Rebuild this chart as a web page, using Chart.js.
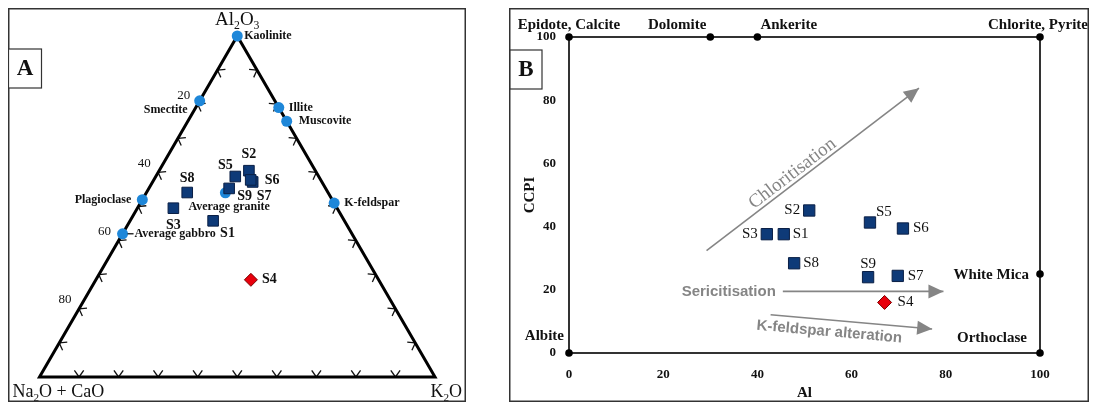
<!DOCTYPE html>
<html>
<head>
<meta charset="utf-8">
<title>A-CN-K ternary and alteration box plot</title>
<script src="https://cdn.jsdelivr.net/npm/chart.js@4.4.1/dist/chart.umd.min.js"></script>
<style>
  html, body { margin: 0; padding: 0; background: #fff; }
  body { width: 1094px; height: 403px; position: relative; overflow: hidden; }
  canvas { position: absolute; }
  #chartA { left: 8px; top: 8px; }
  #chartB { left: 509px; top: 8px; }
</style>
</head>
<body>
<canvas id="chartA" width="458" height="394"></canvas>
<canvas id="chartB" width="580" height="394"></canvas>
<script>
// ---- panel A : A-CN-K ternary (Al2O3 / Na2O+CaO / K2O, %)
const mineralNames = ['Kaolinite', 'Smectite', 'Illite', 'Muscovite', 'Plagioclase', 'K-feldspar', 'Average gabbro', 'Average granite'];
const mineralAl = [100, 81, 79, 75, 52, 51, 42, 54];
const mineralCN = [0, 19, 0, 0, 48, 0, 58, 26];
const mineralK = [0, 0, 21, 25, 0, 49, 0, 20];

const samplesA = ['S1', 'S2', 'S3', 'S5', 'S7', 'S6', 'S8', 'S9'];
const sampleAlA = [45.8, 60.5, 49.5, 58.8, 57.2, 57.8, 54.1, 55.3];
const sampleCNA = [33.2, 16.8, 41.4, 21.1, 17.5, 17.7, 35.6, 24.4];
const sampleKA = [21.0, 22.7, 9.1, 20.1, 25.3, 24.5, 10.3, 20.3];
const s4A = [28.5, 32.3, 39.2]; // Al, CN, K

const ternTicks = [10, 20, 30, 40, 50, 60, 70, 80, 90];
const ternTickLabels = [20, 40, 60, 80];

// ---- panel B : alteration box plot (AI vs CCPI)
const samplesB = ['S1', 'S2', 'S3', 'S5', 'S6', 'S7', 'S8', 'S9'];
const sampleAI = [45.6, 51.0, 42.0, 63.9, 70.9, 69.8, 47.8, 63.5];
const sampleCCPI = [37.6, 45.1, 37.6, 41.3, 39.4, 24.4, 28.4, 24.0];
const s4B = [67.0, 16.0];

const endNames = ['Epidote, Calcite', 'Dolomite', 'Ankerite', 'Chlorite, Pyrite', 'White Mica', 'Albite', 'Orthoclase'];
const endAI = [0, 30, 40, 100, 100, 0, 100];
const endCCPI = [100, 100, 100, 100, 25, 0, 0];

const trendNames = ['Chloritisation', 'Sericitisation', 'K-feldspar alteration'];
const trendFrom = [[29.2, 32.4], [45.4, 19.5], [42.8, 12.1]];
const trendTo = [[74.3, 83.8], [79.5, 19.5], [77.1, 7.6]];

const axisTicks = [0, 20, 40, 60, 80, 100];

// ---- styles
const SERIF = '"Liberation Serif", "DejaVu Serif", serif';
const SANS = '"Liberation Sans", Arial, sans-serif';
const NAVY = '#0e3a78';
const BLUE = '#1e87d9';
const RED = '#e8000c';
const GRAY = '#858585';
const INK = '#111';

// label placement (pixels from the mark)
const mineralLabelPos = {
  'Kaolinite': [7, 0, 'left'],
  'Smectite': [-12, 9, 'right'],
  'Illite': [10, 0, 'left'],
  'Muscovite': [12, 0, 'left'],
  'Plagioclase': [-11, 0, 'right'],
  'K-feldspar': [10, 0, 'left'],
  'Average gabbro': [12, 0, 'left'],
  'Average granite': [-37, 14, 'left']
};
const sampleLabelPosA = {
  S1: [7, 13, 'left'], S2: [0, -16, 'center'], S3: [0, 17, 'center'], S5: [-10, -11, 'center'],
  S6: [14, 0, 'left'], S7: [4, 14, 'left'], S8: [0, -14, 'center'], S9: [8, 8, 'left'], S4: [11, 0, 'left']
};
const sampleLabelPosB = {
  S1: [9, 0, 'left'], S2: [-9, 0, 'right'], S3: [-9, 0, 'right'], S5: [6, -10, 'left'],
  S6: [10, 0, 'left'], S7: [10, 0, 'left'], S8: [9, 0, 'left'], S9: [0, -13, 'center'], S4: [13, 0, 'left']
};
const endLabelPos = {
  'Epidote, Calcite': [0, -12, 'center'], 'Dolomite': [-4, -12, 'right'], 'Ankerite': [3, -12, 'left'],
  'Chlorite, Pyrite': [-2, -12, 'center'], 'White Mica': [-11, 1, 'right'], 'Albite': [-5, -17, 'right'],
  'Orthoclase': [-13, -15, 'right']
};

const SQ3 = Math.sqrt(3) / 2;
function tern(al, cn, k) {
  const s = al + cn + k;
  return { x: (k + al / 2) / s, y: (al / s) * SQ3 };
}

function text(ctx, str, x, y, font, align, color) {
  ctx.font = font;
  ctx.fillStyle = color || INK;
  ctx.textAlign = align || 'left';
  ctx.textBaseline = 'middle';
  ctx.fillText(str, x, y);
}

// chemical formula with subscripts, y = baseline
function chem(ctx, parts, x, y, size, align) {
  ctx.textBaseline = 'alphabetic';
  ctx.textAlign = 'left';
  ctx.fillStyle = INK;
  const fonts = parts.map(p => (p[1] ? size * 0.62 : size) + 'px ' + SERIF);
  const widths = parts.map((p, i) => { ctx.font = fonts[i]; return ctx.measureText(p[0]).width; });
  const total = widths.reduce((a, b) => a + b, 0);
  let cx = align === 'center' ? x - total / 2 : align === 'right' ? x - total : x;
  parts.forEach((p, i) => {
    ctx.font = fonts[i];
    ctx.fillText(p[0], cx, p[1] ? y + size * 0.2 : y);
    cx += widths[i];
  });
}

function panelFrame(ctx, chart, letter, box) {
  ctx.save();
  ctx.strokeStyle = '#333';
  ctx.lineWidth = 1.5;
  ctx.strokeRect(0.75, 0.75, chart.width - 1.5, chart.height - 1.5);
  ctx.fillStyle = '#fff';
  ctx.fillRect(box[0], box[1], box[2], box[3]);
  ctx.lineWidth = 1.2;
  ctx.strokeRect(box[0], box[1], box[2], box[3]);
  text(ctx, letter, box[0] + box[2] / 2, box[1] + box[3] / 2 + 1, 'bold 23px ' + SERIF, 'center');
  ctx.restore();
}

const ternPlugin = {
  id: 'ternary',
  beforeDatasetsDraw(chart) {
    const { ctx, scales: { x, y } } = chart;
    const px = (a, c, k) => { const p = tern(a, c, k); return [x.getPixelForValue(p.x), y.getPixelForValue(p.y)]; };
    const L = px(0, 100, 0), T = px(100, 0, 0), R = px(0, 0, 100);
    const cx = (L[0] + T[0] + R[0]) / 3, cy = (L[1] + T[1] + R[1]) / 3;
    const edges = [
      t => px(100 - t, t, 0),
      t => px(0, 100 - t, t),
      t => px(t, 0, 100 - t)
    ];
    ctx.save();
    ctx.strokeStyle = INK;
    ctx.lineWidth = 1.3;
    edges.forEach(f => {
      const a = f(0), b = f(100);
      let dx = b[0] - a[0], dy = b[1] - a[1];
      const len = Math.hypot(dx, dy);
      dx /= len; dy /= len;
      let nx = -dy, ny = dx;
      const m = f(50);
      if ((cx - m[0]) * nx + (cy - m[1]) * ny < 0) { nx = -nx; ny = -ny; }
      ternTicks.forEach(t => {
        const p = f(t);
        [-0.62, 0.62].forEach(r => {
          const ax = nx * Math.cos(r) - ny * Math.sin(r);
          const ay = nx * Math.sin(r) + ny * Math.cos(r);
          ctx.beginPath();
          ctx.moveTo(p[0], p[1]);
          ctx.lineTo(p[0] + ax * 8, p[1] + ay * 8);
          ctx.stroke();
        });
      });
    });
    ctx.restore();
  },
  afterDatasetsDraw(chart) {
    const { ctx, scales: { x, y } } = chart;
    const px = (a, c, k) => { const p = tern(a, c, k); return [x.getPixelForValue(p.x), y.getPixelForValue(p.y)]; };
    ctx.save();
    // tick values on the Na2O+CaO side
    ternTickLabels.forEach(t => {
      const p = px(100 - t, t, 0);
      text(ctx, String(t), p[0] - 14, p[1] - 9, '13px ' + SERIF, 'center');
    });
    mineralNames.forEach((n, i) => {
      const p = px(mineralAl[i], mineralCN[i], mineralK[i]);
      const o = mineralLabelPos[n];
      if (n === 'Average gabbro') {
        ctx.strokeStyle = INK; ctx.lineWidth = 1.3;
        ctx.beginPath(); ctx.moveTo(p[0] + 5, p[1]); ctx.lineTo(p[0] + 11, p[1]); ctx.stroke();
      }
      text(ctx, n, p[0] + o[0], p[1] + o[1], 'bold 12px ' + SERIF, o[2]);
    });
    samplesA.forEach((n, i) => {
      const p = px(sampleAlA[i], sampleCNA[i], sampleKA[i]);
      const o = sampleLabelPosA[n];
      text(ctx, n, p[0] + o[0], p[1] + o[1], 'bold 14px ' + SERIF, o[2]);
    });
    const p4 = px(s4A[0], s4A[1], s4A[2]);
    const o4 = sampleLabelPosA.S4;
    text(ctx, 'S4', p4[0] + o4[0], p4[1] + o4[1], 'bold 14px ' + SERIF, o4[2]);
    // apex names
    const L = px(0, 100, 0), T = px(100, 0, 0), R = px(0, 0, 100);
    chem(ctx, [['Al'], ['2', 1], ['O'], ['3', 1]], T[0], T[1] - 11, 19, 'center');
    chem(ctx, [['Na'], ['2', 1], ['O + CaO']], L[0] - 27, L[1] + 20, 18, 'left');
    chem(ctx, [['K'], ['2', 1], ['O']], R[0] + 27, R[1] + 20, 18, 'right');
    ctx.restore();
  },
  afterDraw(chart) {
    panelFrame(chart.ctx, chart, 'A', [0.5, 41, 33, 39]);
  }
};

const boxPlugin = {
  id: 'boxplot',
  afterDatasetsDraw(chart) {
    const { ctx, scales: { x, y } } = chart;
    ctx.save();
    // arrow heads and trend names
    trendNames.forEach((n, i) => {
      const x0 = x.getPixelForValue(trendFrom[i][0]), y0 = y.getPixelForValue(trendFrom[i][1]);
      const x1 = x.getPixelForValue(trendTo[i][0]), y1 = y.getPixelForValue(trendTo[i][1]);
      const a = Math.atan2(y1 - y0, x1 - x0);
      const c = Math.cos(a), s = Math.sin(a);
      ctx.fillStyle = GRAY;
      ctx.beginPath();
      ctx.moveTo(x1, y1);
      ctx.lineTo(x1 - 15 * c + 7 * s, y1 - 15 * s - 7 * c);
      ctx.lineTo(x1 - 15 * c - 7 * s, y1 - 15 * s + 7 * c);
      ctx.closePath();
      ctx.fill();
      ctx.textBaseline = 'middle';
      if (n === 'Sericitisation') {
        ctx.font = 'bold 15px ' + SANS;
        ctx.textAlign = 'right';
        ctx.fillText(n, x0 - 7, y0);
      } else {
        const serifName = n === 'Chloritisation';
        ctx.font = serifName ? '19px ' + SERIF : 'bold 15px ' + SANS;
        const t = serifName ? 0.43 : 0.37;
        const off = serifName ? -9 : 12;
        const mx = x0 + (x1 - x0) * t - s * off, my = y0 + (y1 - y0) * t + c * off;
        ctx.save();
        ctx.translate(mx, my);
        ctx.rotate(a);
        ctx.textAlign = 'center';
        ctx.fillText(n, 0, 0);
        ctx.restore();
      }
    });
    endNames.forEach((n, i) => {
      const o = endLabelPos[n];
      text(ctx, n, x.getPixelForValue(endAI[i]) + o[0], y.getPixelForValue(endCCPI[i]) + o[1], 'bold 15px ' + SERIF, o[2]);
    });
    samplesB.forEach((n, i) => {
      const o = sampleLabelPosB[n];
      text(ctx, n, x.getPixelForValue(sampleAI[i]) + o[0], y.getPixelForValue(sampleCCPI[i]) + o[1], '15px ' + SERIF, o[2]);
    });
    const o4 = sampleLabelPosB.S4;
    text(ctx, 'S4', x.getPixelForValue(s4B[0]) + o4[0], y.getPixelForValue(s4B[1]) + o4[1], '15px ' + SERIF, o4[2]);
    ctx.restore();
  },
  afterDraw(chart) {
    panelFrame(chart.ctx, chart, 'B', [1, 42, 32, 39]);
  }
};

Chart.defaults.font.family = SERIF;
Chart.defaults.color = INK;

new Chart(document.getElementById('chartA'), {
  type: 'scatter',
  data: {
    datasets: [
      {
        data: samplesA.map((n, i) => tern(sampleAlA[i], sampleCNA[i], sampleKA[i])),
        pointStyle: 'rect', pointRadius: 7.5, backgroundColor: NAVY, borderColor: '#0a1f45', borderWidth: 1, order: 1, clip: false
      },
      {
        data: [tern(s4A[0], s4A[1], s4A[2])],
        pointStyle: 'rectRot', pointRadius: 6.5, backgroundColor: RED, borderColor: '#7a0000', borderWidth: 1, order: 1, clip: false
      },
      {
        data: mineralNames.map((n, i) => tern(mineralAl[i], mineralCN[i], mineralK[i])),
        pointRadius: 5.5, backgroundColor: BLUE, borderWidth: 0, order: 2, clip: false
      },
      {
        data: [tern(0, 100, 0), tern(100, 0, 0), tern(0, 0, 100), tern(0, 100, 0), tern(100, 0, 0)],
        showLine: true, borderColor: '#000', borderWidth: 3, borderJoinStyle: 'miter', pointRadius: 0, order: 3, clip: false
      }
    ]
  },
  options: {
    responsive: false,
    animation: false,
    layout: { padding: { left: 31.5, right: 31, top: 28, bottom: 25 } },
    plugins: { legend: { display: false }, tooltip: { enabled: false } },
    scales: {
      x: { type: 'linear', min: 0, max: 1, display: false },
      y: { type: 'linear', min: 0, max: SQ3, display: false }
    }
  },
  plugins: [ternPlugin]
});

new Chart(document.getElementById('chartB'), {
  type: 'scatter',
  data: {
    datasets: [
      {
        data: samplesB.map((n, i) => ({ x: sampleAI[i], y: sampleCCPI[i] })),
        pointStyle: 'rect', pointRadius: 8, backgroundColor: NAVY, borderColor: '#0a1f45', borderWidth: 1, order: 1, clip: false
      },
      {
        data: [{ x: s4B[0], y: s4B[1] }],
        pointStyle: 'rectRot', pointRadius: 7, backgroundColor: RED, borderColor: '#7a0000', borderWidth: 1, order: 1, clip: false
      },
      {
        data: endNames.map((n, i) => ({ x: endAI[i], y: endCCPI[i] })),
        pointRadius: 3.8, backgroundColor: '#000', borderWidth: 0, order: 2, clip: false
      },
      ...trendNames.map((n, i) => ({
        data: [{ x: trendFrom[i][0], y: trendFrom[i][1] }, { x: trendTo[i][0], y: trendTo[i][1] }],
        showLine: true, borderColor: GRAY, borderWidth: 1.6, pointRadius: 0, order: 3, clip: false
      })),
      {
        data: [{ x: 0, y: 0 }, { x: 0, y: 100 }, { x: 100, y: 100 }, { x: 100, y: 0 }, { x: 0, y: 0 }, { x: 0, y: 100 }],
        showLine: true, borderColor: '#333', borderWidth: 2, borderJoinStyle: 'miter', pointRadius: 0, order: 4, clip: false
      }
    ]
  },
  options: {
    responsive: false,
    animation: false,
    layout: { padding: { left: 0, right: 49, top: 29, bottom: 0 } },
    plugins: { legend: { display: false }, tooltip: { enabled: false } },
    scales: {
      x: {
        type: 'linear', min: 0, max: 100,
        afterBuildTicks: s => { s.ticks = axisTicks.map(v => ({ value: v })); },
        afterFit: s => { s.height = 49; },
        ticks: { padding: 14, font: { size: 13, weight: 'bold' } },
        grid: { display: false, drawTicks: false },
        border: { display: false },
        title: { display: true, text: 'Al', font: { size: 15, weight: 'bold' }, padding: 0 }
      },
      y: {
        type: 'linear', min: 0, max: 100,
        afterBuildTicks: s => { s.ticks = axisTicks.map(v => ({ value: v })); },
        afterFit: s => { s.width = 60; },
        ticks: { padding: 13, font: { size: 13, weight: 'bold' } },
        grid: { display: false, drawTicks: false },
        border: { display: false },
        title: { display: true, text: 'CCPI', font: { size: 15, weight: 'bold' }, padding: { top: 12, bottom: 0 } }
      }
    }
  },
  plugins: [boxPlugin]
});
</script>
</body>
</html>
